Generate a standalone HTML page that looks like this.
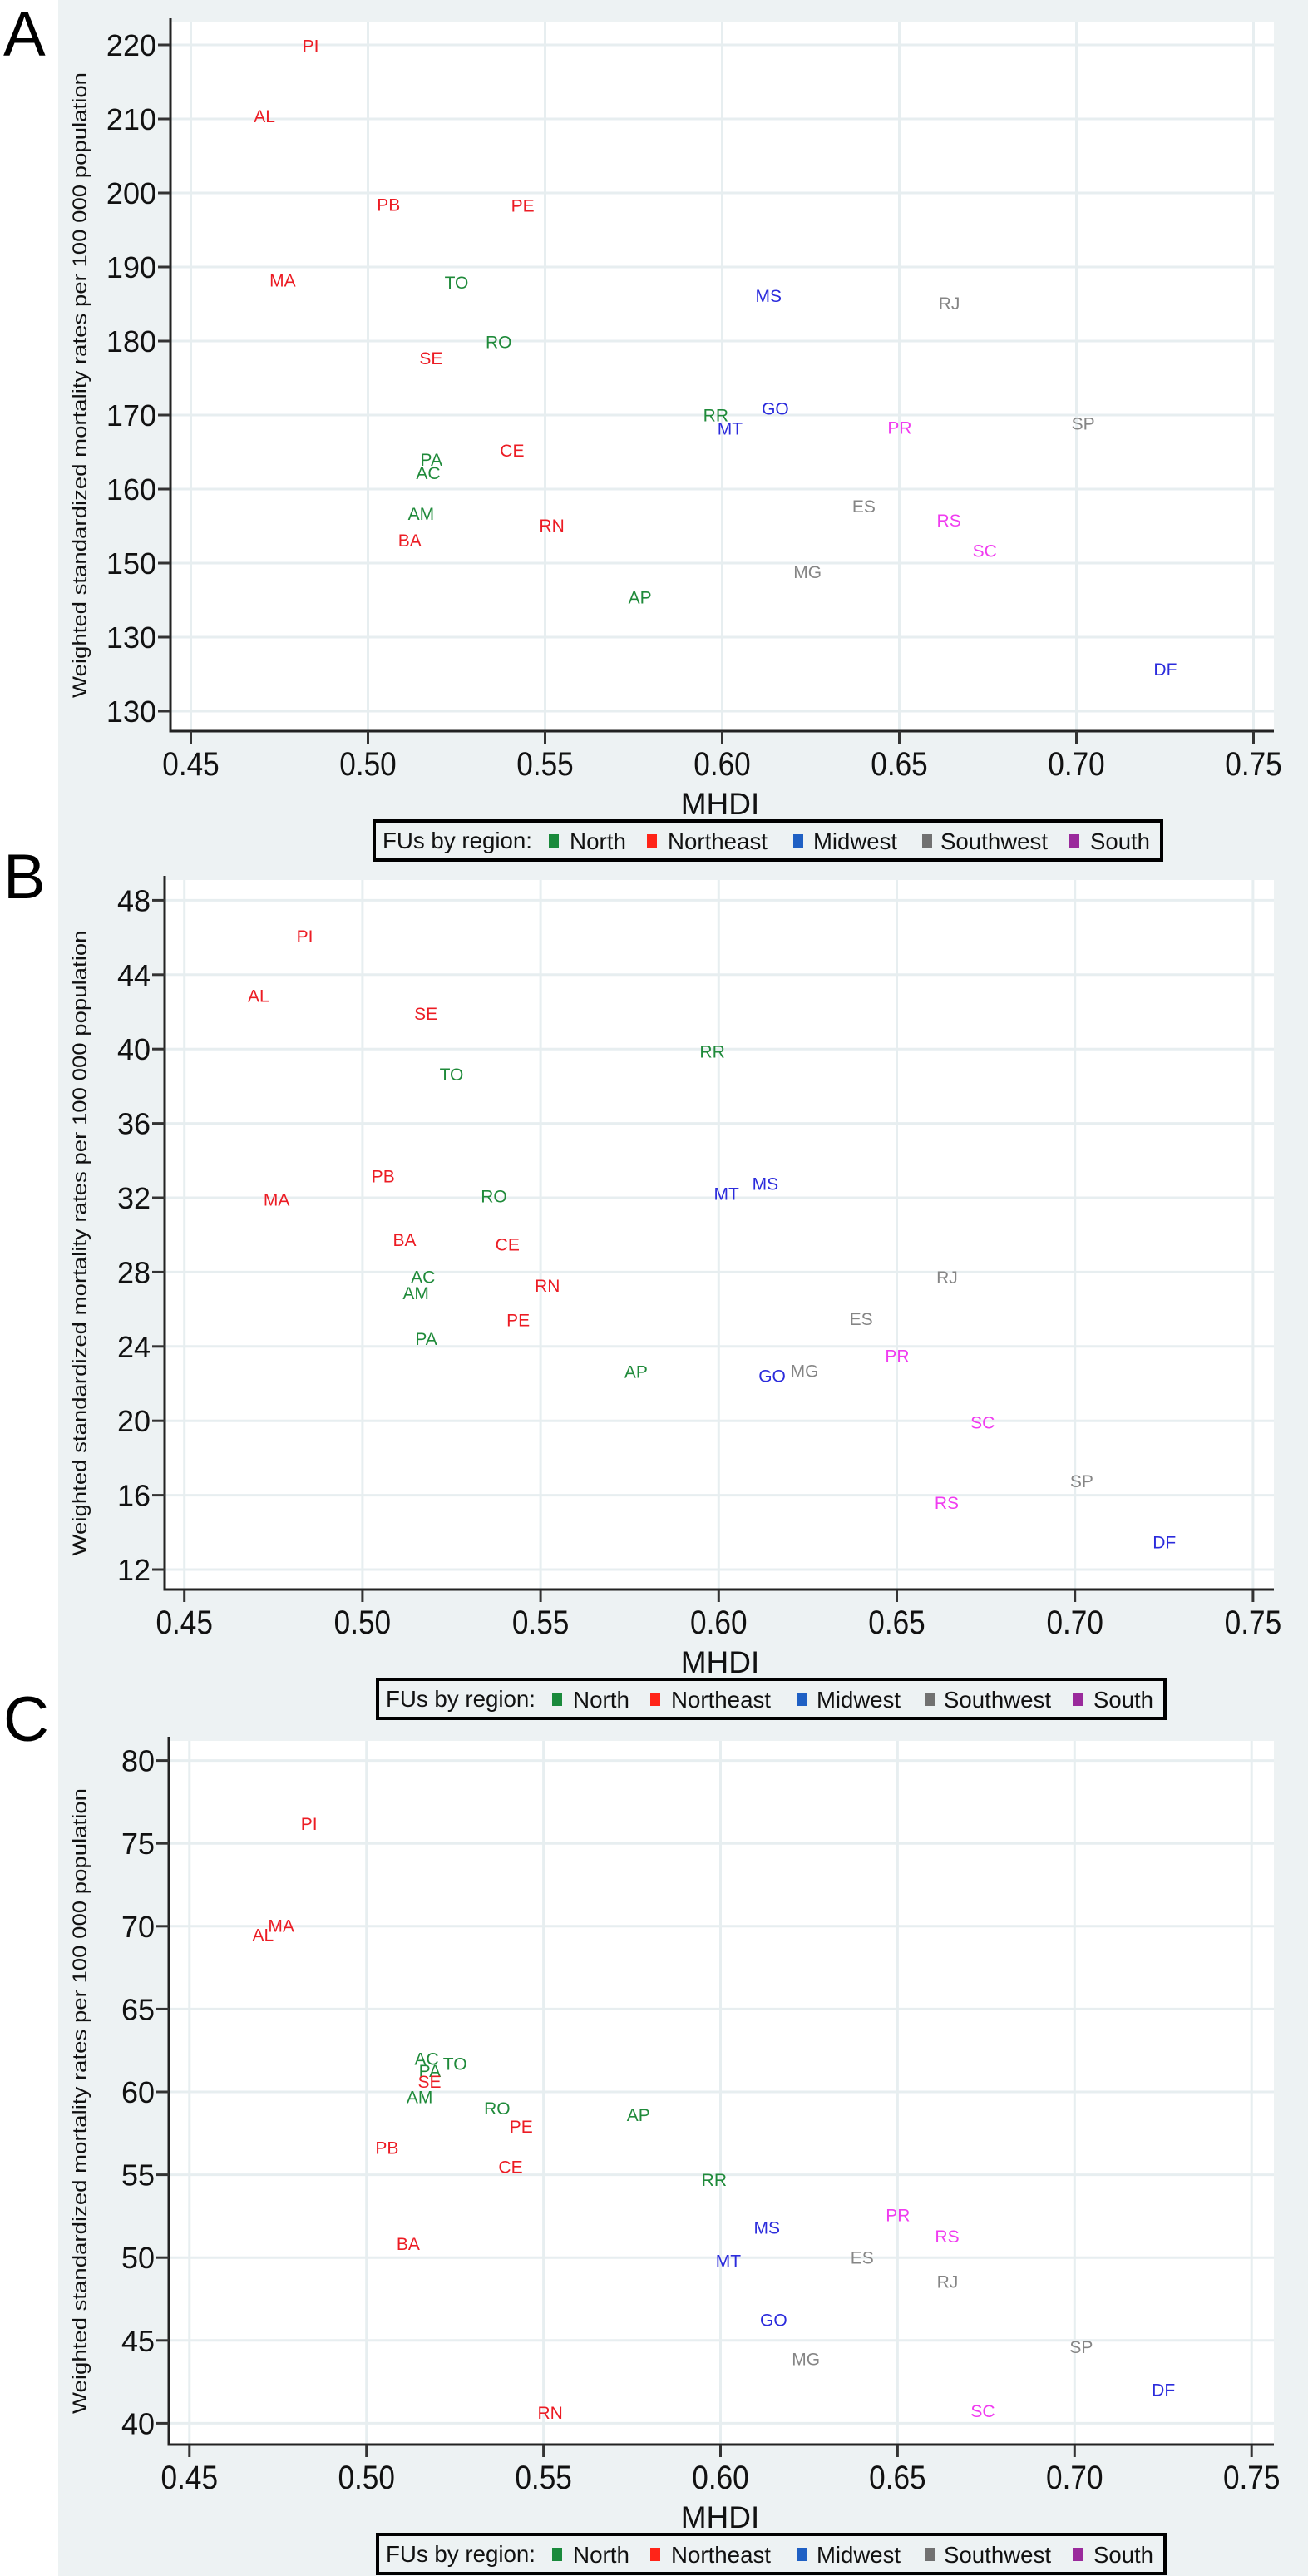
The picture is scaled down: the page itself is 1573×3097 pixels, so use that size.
<!DOCTYPE html>
<html><head><meta charset="utf-8">
<style>
html,body{margin:0;padding:0;background:#fff;}
body{width:1573px;height:3097px;overflow:hidden;font-family:"Liberation Sans",Arial,sans-serif;}
svg{display:block;}
</style></head>
<body>
<svg id="fig" width="1573" height="3097" viewBox="0 0 1573 3097" xmlns="http://www.w3.org/2000/svg">
<rect x="70" y="0" width="1503" height="3097" fill="#edf2f3"/>
</svg>
<script>
// ---- data ----
const states = ["AC","AM","AP","PA","RO","RR","TO","AL","BA","CE","MA","PB","PE","PI","RN","SE","DF","GO","MS","MT","ES","MG","RJ","SP","PR","RS","SC"];
const regions = ["N","N","N","N","N","N","N","NE","NE","NE","NE","NE","NE","NE","NE","NE","MW","MW","MW","MW","SW","SW","SW","SW","S","S","S"];
const mhdi = [0.517,0.515,0.5768,0.5179,0.5369,0.5982,0.525,0.4708,0.5118,0.5407,0.4759,0.5058,0.5437,0.4838,0.5519,0.5178,0.7251,0.615,0.6131,0.6022,0.64,0.6241,0.6641,0.7019,0.6501,0.664,0.6741];
const ratesA = [162.2,156.7,145.4,164.0,179.9,170.0,187.9,210.4,153.1,165.2,188.2,198.4,198.3,219.9,155.1,177.7,135.7,170.9,186.1,168.2,157.7,148.8,185.1,168.9,168.3,155.8,151.7];
const ratesB = [27.76,26.87,22.65,24.42,32.10,39.88,38.65,42.88,29.75,29.50,31.91,33.16,25.43,46.07,27.29,41.92,13.47,22.43,32.77,32.22,25.50,22.70,27.73,16.76,23.49,15.61,19.93];
const ratesC = [62.00,59.71,58.61,61.29,59.03,54.70,61.70,69.49,50.85,55.47,70.04,56.63,57.92,76.18,40.66,60.62,42.03,46.25,51.81,49.80,50.00,43.88,48.56,44.62,52.58,51.28,40.74];
const xTicks = [0.45,0.50,0.55,0.60,0.65,0.70,0.75];
const xTickLabels = ["0.45","0.50","0.55","0.60","0.65","0.70","0.75"];
const yTicksA = [130,140,150,160,170,180,190,200,210,220];
const yTickLabelsA = ["130","130","150","160","170","180","190","200","210","220"];
const yTicksB = [12,16,20,24,28,32,36,40,44,48];
const yTickLabelsB = ["12","16","20","24","28","32","36","40","44","48"];
const yTicksC = [40,45,50,55,60,65,70,75,80];
const yTickLabelsC = ["40","45","50","55","60","65","70","75","80"];
const legendNames = ["North","Northeast","Midwest","Southwest","South"];

const labelColor = {N:"#1f8a3a",NE:"#ec1c24",MW:"#2b2bdc",SW:"#858585",S:"#f03cf0"};
const legendColor = ["#1a8a3c","#ff2418","#1f60c4","#717171","#9a2a9c"];
const NS="http://www.w3.org/2000/svg";
const svg=document.getElementById('fig');
function mk(tag,attrs,parent){const e=document.createElementNS(NS,tag);for(const k in attrs)e.setAttribute(k,attrs[k]);(parent||svg).appendChild(e);return e;}

const panels=[
 {letter:"A",ys:ratesA,ticks:yTicksA,tickLabels:yTickLabelsA,axisX:205,top:27,axisY:879,x0:229.5,xs:213,y0:855,yv0:130,ystep:10,ypx:89,letterY:67,legX:450},
 {letter:"B",ys:ratesB,ticks:yTicksB,tickLabels:yTickLabelsB,axisX:198,top:1058,axisY:1911,x0:221.7,xs:214.2,y0:1887,yv0:12,ystep:4,ypx:89.4,letterY:1080,legX:454},
 {letter:"C",ys:ratesC,ticks:yTicksC,tickLabels:yTickLabelsC,axisX:203,top:2093,axisY:2939,x0:227.8,xs:212.9,y0:2913.4,yv0:40,ystep:5,ypx:99.6,letterY:2093,legX:454}
];
const RIGHT=1532;

panels.forEach((p,pi)=>{
  const g=mk('g',{});
  
  
  const X=v=>p.x0+(v-0.45)/0.05*p.xs;
  const Y=v=>p.y0-(v-p.yv0)/p.ystep*p.ypx;
  const lt=mk('text',{x:4,y:p.letterY,'font-size':76,fill:'#000'},g);
  lt.textContent=p.letter;
  
  
  const bg=mk('rect',{x:p.axisX,y:p.top,width:RIGHT-p.axisX,height:p.axisY-p.top,fill:'#fff'},g);
  
  
  // grid
  xTicks.forEach(v=>{const l=mk('line',{x1:X(v),x2:X(v),y1:p.top,y2:p.axisY,stroke:'#e7eef0','stroke-width':3},g);
    });
  p.ticks.forEach(v=>{const l=mk('line',{x1:p.axisX,x2:RIGHT,y1:Y(v),y2:Y(v),stroke:'#e7eef0','stroke-width':3},g);
    });
  // axes
  const ya=mk('line',{x1:p.axisX,x2:p.axisX,y1:p.top-5,y2:p.axisY+1.5,stroke:'#222','stroke-width':3},g);
  
  const xa=mk('line',{x1:p.axisX-1.5,x2:RIGHT,y1:p.axisY,y2:p.axisY,stroke:'#222','stroke-width':3},g);
  
  // y ticks
  p.ticks.forEach((v,i)=>{
    const t=mk('line',{x1:p.axisX-15,x2:p.axisX,y1:Y(v),y2:Y(v),stroke:'#333','stroke-width':3},g);
    
    const tx=mk('text',{x:p.axisX-17,y:Y(v)+13,'font-size':36,'text-anchor':'end',fill:'#111'},g);
    tx.textContent=p.tickLabels[i];
    
  });
  // x ticks
  xTicks.forEach((v,i)=>{
    const t=mk('line',{x1:X(v),x2:X(v),y1:p.axisY,y2:p.axisY+15,stroke:'#333','stroke-width':3},g);
    
    const tx=mk('text',{x:X(v),y:p.axisY+53,'font-size':40,'text-anchor':'middle',fill:'#111',transform:`translate(${X(v)},0) scale(0.88,1) translate(${-X(v)},0)`},g);
    tx.textContent=xTickLabels[i];
    
  });
  // axis titles
  const xt=mk('text',{x:866,y:p.axisY+100,'font-size':37,'text-anchor':'middle',fill:'#111'},g);
  xt.textContent="MHDI";
  
  const cy=(p.top+p.axisY)/2+10;
  const yt=mk('text',{x:104,y:cy,'font-size':24,'text-anchor':'middle',fill:'#111',transform:`rotate(-90 104 ${cy})`,textLength:752,lengthAdjust:'spacingAndGlyphs'},g);
  yt.textContent="Weighted standardized mortality rates per 100 000 population";
  
  // points (labels)
  states.forEach((s,i)=>{
    const t=mk('text',{x:X(mhdi[i]),y:Y(p.ys[i])+7.5,'font-size':21,'text-anchor':'middle',fill:labelColor[regions[i]]},g);
    t.textContent=s;
    
    
  });
  // legend
  const lg=mk('g',{},g);
  
  const ly=p.axisY+108;
  mk('rect',{x:p.legX,y:ly,width:947,height:47,fill:'#edf2f3',stroke:'#000','stroke-width':4},lg);
  const lt2=mk('text',{x:p.legX+10,y:ly+33,'font-size':28,fill:'#111',textLength:180,lengthAdjust:'spacingAndGlyphs'},lg);
  lt2.textContent="FUs by region:";
  
  const sqX=[210,328,504,659,836], txX=[235,353,528,681,861], txW=[68,120,101,129,72];
  legendNames.forEach((n,i)=>{
    const sq=mk('rect',{x:p.legX+sqX[i],y:ly+16,width:12,height:16,fill:legendColor[i]},lg);
    
    const t=mk('text',{x:p.legX+txX[i],y:ly+34,'font-size':28,fill:'#111',textLength:txW[i],lengthAdjust:'spacingAndGlyphs'},lg);
    t.textContent=n;
    
  });
});
</script>
</body></html>
